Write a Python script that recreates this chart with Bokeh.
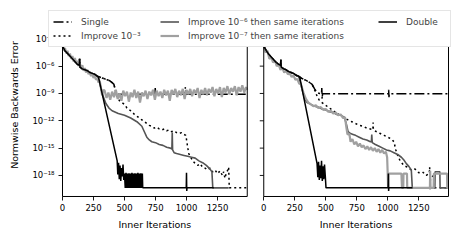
import numpy as np
from bokeh.plotting import figure
from bokeh.models import (Range1d, FixedTicker, CustomJSTickFormatter, BoxAnnotation,
                          Legend, LegendItem, Label, LinearAxis, LogAxis)
from bokeh.embed import file_html
from bokeh.resources import INLINE

# ---------------- data (iterations, log10 of normwise backward error) ----------------
XMAX = 1490
XOFF = 1623          # where the second panel starts on the shared x scale

x_ticks = [0, 250, 500, 750, 1000, 1250]
y_tick_exps = [-3, -6, -9, -12, -15, -18]
y_label = "Normwise Backwards Error"
x_label = "Inner Iterations"
names = ["Single", "Improve 10⁻³", "Improve 10⁻⁶ then same iterations",
         "Improve 10⁻⁷ then same iterations", "Double"]

# ---- left panel ----
lc_it = [0, 20, 40, 60, 80, 100, 120, 135, 138, 141, 160, 180, 200, 220, 240, 260, 280]
lc_exp = [-3.8, -4.3, -4.6, -4.9, -5.2, -5.5, -5.8, -5.9, -5.2, -6.1, -6.3, -6.4, -6.5, -6.7, -6.8, -6.9, -7.1]

left_single_it = lc_it + [300, 320, 340, 360, 380, 400, 415, 425, 440, 745, 748, 751, 988, 991, 994, 1490]
left_single_exp = lc_exp + [-7.2, -7.3, -7.4, -7.5, -7.6, -7.8, -8.0, -8.6, -9.1, -9.1, -8.4, -9.1, -9.1, -8.3, -9.1, -9.1]

left_imp3_it = lc_it + [300, 320, 340, 360, 380, 400, 415, 425, 435, 445, 460, 480, 500, 520, 540, 560,
                        580, 600, 620, 640, 660, 680, 700, 720, 740, 760, 780, 800, 820, 840, 860,
                        880, 900, 920, 940, 960, 980, 995, 1005, 1018, 1030, 1050, 1070, 1090, 1110, 1130,
                        1150, 1170, 1190, 1210, 1230, 1250, 1270, 1290, 1300, 1310, 1320, 1330, 1340, 1345, 1490]
left_imp3_exp = lc_exp + [-7.2, -7.3, -7.4, -7.5, -7.6, -7.8, -8.0, -8.6, -9.2, -9.5, -9.8, -10.0, -10.2, -10.6, -10.8, -11.0,
                          -11.3, -11.5, -11.7, -11.9, -12.1, -12.3, -12.5, -12.6, -12.8, -12.7, -12.9, -13.0, -12.9, -13.1, -13.0,
                          -13.2, -13.1, -13.3, -13.4, -13.3, -13.5, -13.6, -14.5, -15.6, -15.9, -16.4, -16.7, -16.9, -16.7, -17.1,
                          -17.2, -17.4, -17.2, -17.6, -17.4, -17.8, -17.5, -18.0, -17.6, -18.3, -17.8, -17.5, -17.1, -19.36, -19.36]

left_imp6_it = lc_it + [290, 310, 330, 350, 375, 400, 450, 500, 550, 600, 640, 660, 680, 700, 720, 750, 780, 810,
                        840, 870, 882, 885, 888, 900, 920, 950, 980, 1010, 1040, 1070, 1100, 1130, 1160, 1190,
                        1205, 1212, 1340]
left_imp6_exp = lc_exp + [-7.3, -8.4, -9.4, -10.1, -10.6, -10.9, -11.2, -11.4, -11.7, -12.1, -12.6, -13.2, -13.8, -14.1,
                          -14.3, -14.4, -14.6, -14.7, -14.9, -15.0, -15.1, -13.3, -15.2, -15.5, -15.6, -15.7, -15.8,
                          -15.9, -16.0, -16.1, -16.4, -16.6, -16.9, -17.3, -17.6, -19.36, -19.36]

left_imp7_it = list(range(0, 331, 10)) + list(range(340, 1481, 15)) + [1490]
left_imp7_exp = [-3.7, -4.3, -4.0, -4.6, -4.3, -4.9, -4.6, -5.2, -4.9, -5.5, -5.1, -5.7, -5.4, -6.0, -5.7, -6.3, -5.9,
                 -6.5, -6.2, -6.7, -6.4, -6.9, -6.6, -7.1, -6.8, -7.3, -7.0, -7.5, -7.3, -7.8, -7.6, -8.4, -9.2, -8.6,
                 -8.7, -9.5, -8.9, -9.7, -8.8, -9.4, -8.6, -9.6, -9.0, -9.8,
                 -8.7, -9.3, -8.8, -9.9, -8.9, -9.4, -8.6, -9.5, -8.8, -10.0,
                 -8.9, -9.3, -8.7, -9.6, -8.8, -9.2, -8.6, -9.7, -8.7, -9.3,
                 -8.8, -9.5, -8.6, -9.2, -8.7, -9.8, -8.6, -9.1, -8.5, -9.4,
                 -8.7, -9.2, -8.5, -9.6, -8.6, -9.1, -8.5, -9.3, -8.6, -9.0,
                 -8.4, -9.5, -8.6, -9.1, -8.4, -9.2, -8.5, -8.9, -8.3, -9.3,
                 -8.5, -9.0, -8.3, -9.4, -8.4, -8.9, -8.2, -9.1, -8.4, -8.8,
                 -8.2, -9.2, -8.3, -8.8, -8.1, -8.9, -8.3, -8.6]

left_double_it = lc_it + [290, 441, 446, 452, 458, 464, 470, 476, 482, 488, 494] + list(range(500, 645, 6)) + \
                 [647, 998, 1000, 1002, 1004, 1220]
left_double_exp = lc_exp + [-7.2, -16.4, -17.9, -16.6, -18.4, -16.9, -18.6, -17.2, -18.1, -16.8, -18.5] + \
                  [-17.8, -19.36, -17.7, -19.36, -17.8, -19.36, -17.75, -19.36, -17.8, -19.36, -17.7, -19.36, -17.8,
                   -19.36, -17.75, -19.36, -17.8, -19.36, -17.7, -19.36, -17.8, -19.36, -17.75, -19.36, -17.8] + \
                  [-19.36, -19.36, -17.7, -19.7, -19.36, -19.36]

# ---- right panel ----
rc_it = [0, 20, 40, 60, 80, 100, 120, 135, 138, 141, 160, 180, 200, 220, 240, 260, 280]
rc_exp = [-3.8, -4.3, -4.7, -5.0, -5.3, -5.6, -5.8, -5.9, -5.3, -6.1, -6.3, -6.4, -6.6, -6.7, -6.8, -7.0, -7.1]

right_single_it = rc_it + [300, 330, 360, 390, 410, 430, 450, 466, 468, 471, 474, 1005, 1007, 1010, 1012, 1490]
right_single_exp = rc_exp + [-7.3, -7.5, -7.7, -8.0, -8.5, -8.9, -9.0, -9.04, -8.4, -9.6, -9.04, -9.04, -8.6, -9.4, -9.04, -9.04]

right_imp3_it = rc_it + [300, 330, 360, 390, 410, 430, 450, 470, 500, 530, 560, 590, 620, 650, 680, 710, 740, 770,
                         800, 830, 860, 880, 882, 884, 910, 940, 970, 1000, 1030, 1050, 1065, 1080, 1100, 1130,
                         1160, 1190, 1220, 1250, 1280, 1310, 1335, 1338, 1341, 1344, 1370, 1372, 1490]
right_imp3_exp = rc_exp + [-7.3, -7.5, -7.7, -8.0, -8.6, -9.3, -9.8, -10.0, -10.3, -10.6, -10.9, -11.2, -11.4, -11.7,
                           -11.9, -12.1, -12.3, -12.5, -12.6, -12.8, -12.9, -13.0, -12.2, -13.0, -13.2, -13.4, -13.6,
                           -13.8, -14.0, -14.3, -15.2, -15.8, -16.4, -16.9, -17.1, -17.4, -17.3, -17.7, -17.6, -18.0,
                           -17.8, -17.1, -19.5, -18.3, -18.0, -19.36, -19.36]

right_imp6_it = rc_it + [290, 310, 330, 350, 380, 410, 440, 470, 500, 530, 560, 590, 620, 650, 665, 680, 700, 720,
                         740, 770, 800, 830, 860, 868, 871, 875, 900, 930, 960, 990, 1020, 1050, 1080, 1110, 1130,
                         1150, 1170, 1190, 1198, 1380, 1382, 1420, 1422, 1490]
right_imp6_exp = rc_exp + [-7.5, -8.6, -9.6, -10.0, -10.2, -10.4, -10.5, -10.7, -10.8, -11.0, -11.1, -11.3, -11.4, -11.6,
                           -12.3, -13.2, -13.4, -13.5, -13.6, -13.8, -14.0, -14.1, -14.3, -14.3, -13.5, -14.4, -14.6,
                           -14.8, -15.0, -15.2, -15.3, -15.5, -15.7, -16.0, -16.3, -16.7, -17.0, -17.4, -19.36, -19.36,
                           -17.6, -17.6, -19.36, -19.36]

right_imp7_it = list(range(0, 301, 15)) + [320, 340, 360, 380, 400, 420, 440, 460, 480, 500, 520, 540, 560, 580, 600,
                                           620, 640, 655, 665, 675, 690, 700, 715, 730, 745, 760, 775, 790, 805, 820,
                                           835, 850, 865, 880, 895, 910, 925, 940, 955, 970, 985, 995, 1000, 1003, 1006,
                                           1110, 1115, 1125, 1127, 1155, 1157, 1340, 1342, 1345, 1370, 1372, 1478, 1480, 1490]
right_imp7_exp = [-3.8, -4.5, -4.3, -5.2, -5.0, -5.6, -5.4, -6.0, -5.8, -6.4, -6.2, -6.7, -6.5, -6.9, -6.8, -7.2, -7.0,
                  -7.5, -7.4, -7.9, -8.0,
                  -8.9, -9.6, -10.0, -10.2, -10.4, -10.3, -10.6, -10.5, -10.8, -10.7, -11.0, -10.9, -11.2, -11.1, -11.4,
                  -11.3, -11.7, -11.6, -12.6, -13.5, -13.4, -14.3, -14.0, -14.6, -14.3, -14.8, -14.5, -14.9, -14.7, -15.1,
                  -14.8, -15.2, -14.9, -15.3, -15.0, -15.4, -15.1, -15.5, -15.2, -15.6, -15.4, -16.0, -17.9, -19.36, -17.8,
                  -17.8, -19.36, -19.36, -17.8, -17.8, -19.36, -19.36, -17.5, -19.36, -19.36, -17.8, -17.8, -19.36, -19.36]

right_double_it = rc_it + [290, 430, 436, 442, 448, 454, 460, 466, 472, 478, 484, 490, 496, 502, 1003, 1005, 1007, 1009, 1200]
right_double_exp = rc_exp + [-7.2, -16.7, -18.2, -16.5, -18.5, -16.9, -18.3, -16.4, -18.6, -17.0, -18.4, -16.8, -18.0,
                             -19.36, -19.36, -17.8, -19.7, -19.36, -19.36]

# ---------------- figure: one frame covering the whole canvas ----------------
FONT = "DejaVu Sans"
W, H = 459, 240
X0, X1 = -500.0, 3201.6                 # x scale: 250 iterations = 31 px, panel 1 starts 62 px in
E_TOP, E_BOT = 1.204, -25.14            # log10 range of the canvas height (9.11 px per decade)
Y_PANEL = 10 ** -20.31                  # bottom spine of the panels
Y_PANEL_TOP = 10 ** -0.223              # top spine of the panels (under the legend)
Y_XLABEL = 10 ** -23.38
Y_YLABEL = 10 ** -10.27
X_YLABEL = -391.0

p = figure(x_range=Range1d(X0, X1), y_range=Range1d(10 ** E_BOT, 10 ** E_TOP),
           y_axis_type="log", x_axis_location=None, y_axis_location=None,
           frame_width=W, frame_height=H, min_border=0,
           output_backend="svg", toolbar_location=None)
p.outline_line_color = None
p.grid.visible = False

styles = [
    dict(line_color="black", line_dash="10 3 2 3", line_width=1.5),
    dict(line_color="black", line_dash="2 3", line_width=1.5),
    dict(line_color="#555555", line_width=1.6),
    dict(line_color="#a0a0a0", line_width=2.2),
    dict(line_color="black", line_width=1.5),
]

left_series = [(left_single_it, left_single_exp), (left_imp3_it, left_imp3_exp), (left_imp6_it, left_imp6_exp),
               (left_imp7_it, left_imp7_exp), (left_double_it, left_double_exp)]
right_series = [(right_single_it, right_single_exp), (right_imp3_it, right_imp3_exp), (right_imp6_it, right_imp6_exp),
                (right_imp7_it, right_imp7_exp), (right_double_it, right_double_exp)]

left_renderers = []
for (it, ex), st in zip(left_series, styles):
    r = p.line(np.array(it, dtype=float), 10.0 ** np.array(ex), **st)
    left_renderers.append(r)
for (it, ex), st in zip(right_series, styles):
    p.line(np.array(it, dtype=float) + XOFF, 10.0 ** np.array(ex), **st)

# panel frames (spines)
for left in (0, XOFF):
    p.add_layout(BoxAnnotation(left=left, right=left + XMAX, bottom=Y_PANEL, top=Y_PANEL_TOP,
                               fill_alpha=0, fill_color=None, line_color="black", line_alpha=1,
                               line_width=1))

# right panel y tick marks (shared y)
p.ray(x=[XOFF] * len(y_tick_exps), y=[10.0 ** e for e in y_tick_exps], length=4, length_units="screen",
      angle=np.pi, line_color="black", line_width=0.9)

# axes drawn at the panels' edges
xa = LinearAxis(fixed_location=Y_PANEL)
p.add_layout(xa, "below")
xa.ticker = FixedTicker(ticks=x_ticks + [XOFF + t for t in x_ticks])
xa.formatter = CustomJSTickFormatter(args=dict(off=XOFF), code="return String(tick >= off ? tick - off : tick);")

ya = LogAxis(fixed_location=0)
p.add_layout(ya, "left")
ya.ticker = FixedTicker(ticks=[10.0 ** e for e in y_tick_exps])
ya.formatter = CustomJSTickFormatter(code="""
const e = Math.round(Math.log10(tick));
const sup = {'-':'\u207b','0':'\u2070','1':'\u00b9','2':'\u00b2','3':'\u00b3','4':'\u2074','5':'\u2075','6':'\u2076','7':'\u2077','8':'\u2078','9':'\u2079'};
return '10' + String(e).split('').map(c => sup[c]).join('');
""")
for ax in (xa, ya):
    ax.axis_line_color = None
    ax.major_tick_out = 4
    ax.major_tick_in = 0
    ax.major_tick_line_width = 0.9
    ax.minor_tick_line_color = None
    ax.major_label_text_font = FONT
    ax.major_label_text_font_size = "8.5px"
    ax.major_label_text_color = "black"
    ax.major_label_standoff = 4

# axis titles
for cx in (XMAX / 2, XOFF + XMAX / 2):
    p.add_layout(Label(x=cx, y=Y_XLABEL, text=x_label, text_align="center", text_baseline="middle",
                       text_font=FONT, text_font_size="9.5px", text_color="black"))
p.add_layout(Label(x=X_YLABEL, y=Y_YLABEL, text=y_label, angle=np.pi / 2, text_align="center",
                   text_baseline="middle", text_font=FONT, text_font_size="9.5px", text_color="black"))

# legend: one framed box (first column) plus two more columns laid on it
common = dict(label_text_font=FONT, label_text_font_size="9px", glyph_width=19, glyph_height=13,
              label_height=13, label_standoff=9, spacing=1, padding=4, margin=0)
items = [LegendItem(label=n, renderers=[r]) for n, r in zip(names, left_renderers)]
leg_a = Legend(items=items[0:2], location=(48, 193), label_width=365,
               border_line_color="#cccccc", border_line_width=1,
               background_fill_color="white", background_fill_alpha=1.0, **common)
leg_b = Legend(items=items[2:4], location=(160, 198), border_line_color=None,
               background_fill_alpha=0, **common)
leg_c = Legend(items=items[4:5], location=(378, 212), border_line_color=None,
               background_fill_alpha=0, **common)
for lg in (leg_a, leg_b, leg_c):
    p.add_layout(lg)

open("out.html", "w").write(file_html(p, INLINE))
